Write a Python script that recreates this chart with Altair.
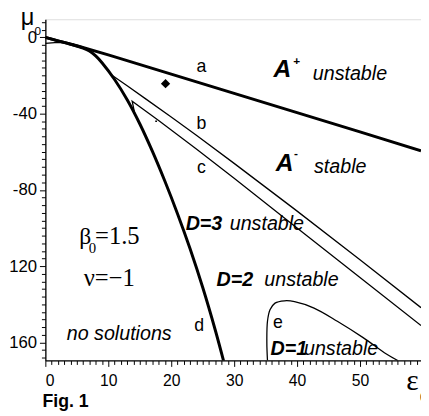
import altair as alt
import pandas as pd

# ---- curve data (epsilon_0, mu_0) ----
a_x = [0, 2, 5, 10, 20, 30, 40, 50, 59.7]
a_y = [0, -1.8, -4.4, -9.2, -19.3, -29.4, -39.5, -49.6, -59.5]

d_x = [0, 2, 4, 6, 7, 8, 9, 11, 13, 15, 17, 19, 21, 23, 25, 27, 28.4]
d_y = [0, -1.8, -3.6, -5.6, -7.1, -9.7, -13.3, -22.1, -32.7, -45.3, -59.7, -75.5, -92.5, -110.9, -131.1, -153.5, -170.7]

b_x = [10.3, 13, 16, 20, 24, 30, 39.6, 50, 59.7]
b_y = [-19.2, -25.4, -32.4, -41.8, -51.4, -66.1, -90.1, -116.6, -141.8]

c_x = [14.2, 13.8, 18, 24, 30, 39.6, 50, 59.7]
c_y = [-40.0, -33.5, -43.6, -58.6, -73.9, -98.9, -126.0, -151.2]

e_x = [35.3, 35.2, 35.3, 35.7, 36.5, 38.0, 39.6, 42.7, 46.4, 50.5, 54.2, 56.0]
e_y = [-169.5, -160, -148.9, -142.9, -139.4, -138.2, -138.6, -142.0, -148.9, -157.5, -166.1, -169.5]

t_x = [0, 1.5, 3, 4.5]
t_y = [-3.2, -2.8, -2.8, -3.6]

diamond_x = [19.1]
diamond_y = [-24.3]
dot_x = [17.6]
dot_y = [-44.0]

x_ticks = list(range(0, 60))
y_ticks = list(range(8, -172, -4))


def curve(name, xs, ys):
    return pd.DataFrame({"curve": name, "i": list(range(len(xs))), "x": xs, "y": ys})


thick_df = curve("a", a_x, a_y)
thick_d = curve("d", d_x, d_y)
thin_df = pd.concat([curve("b", b_x, b_y), curve("c", c_x, c_y), curve("t", t_x, t_y)])
thin_e = curve("e", e_x, e_y)

xscale = alt.Scale(domain=[0, 59.7], nice=False, zero=False)
yscale = alt.Scale(domain=[-169.5, 9.5], nice=False, zero=False)

x_axis = alt.Axis(
    values=x_ticks, tickCount=500,
    labelExpr="datum.value % 10 === 0 ? '' + datum.value : ''",
    tickSize={"condition": {"test": "datum.value % 10 === 0", "value": 6}, "value": 4},
    labelOverlap=False, grid=False, title=None,
    labelFont="Liberation Sans", labelFontSize=16, labelColor="black",
    labelPadding=6, domainColor="black", domainWidth=1.3, tickColor="black",
)
y_axis = alt.Axis(
    values=y_ticks, tickCount=500,
    labelExpr=("datum.value % 40 === 0 && datum.value <= 0 ? (datum.value === 0 ? '0' : "
               "(datum.value >= -80 ? '-' + (-datum.value) : '' + (-datum.value))) : ''"),
    tickSize={"condition": {"test": "datum.value % 40 === 0", "value": 6}, "value": 4},
    labelOverlap=False, grid=False, title=None,
    labelFont="Liberation Sans", labelFontSize=17, labelColor="black",
    labelPadding=3, domainColor="black", domainWidth=1.3, tickColor="black",
)

X = alt.X("x:Q", scale=xscale, axis=x_axis)
Y = alt.Y("y:Q", scale=yscale, axis=y_axis)

base_thick = alt.Chart(thick_df).mark_line(color="black", strokeWidth=3, clip=True).encode(
    x=X, y=Y, order="i:Q")
d_line = alt.Chart(thick_d).mark_line(color="black", strokeWidth=3, clip=True,
                                      interpolate="catmull-rom").encode(
    x=X, y=Y, order="i:Q")
thin_lines = alt.Chart(thin_df).mark_line(color="black", strokeWidth=1.3, clip=True).encode(
    x=X, y=Y, detail="curve:N", order="i:Q")
e_line = alt.Chart(thin_e).mark_line(color="black", strokeWidth=1.3, clip=True,
                                     interpolate="catmull-rom").encode(
    x=X, y=Y, order="i:Q")

diamond = alt.Chart(pd.DataFrame({"x": diamond_x, "y": diamond_y})).mark_point(
    shape="diamond", filled=True, size=90, color="black", opacity=1).encode(x=X, y=Y)
dot = alt.Chart(pd.DataFrame({"x": dot_x, "y": dot_y})).mark_point(
    shape="square", filled=True, size=3, color="black", opacity=1).encode(x=X, y=Y)

# ---- annotation labels ----
letters = ["a", "b", "c", "d", "e"]
letters_x = [24.8, 24.8, 24.8, 24.45, 36.95]
letters_y = [-18.3, -48.2, -71.4, -153.9, -152.4]

big_A = ["A", "A"]
big_A_x = [36.25, 36.6]
big_A_y = [-20.9, -69.9]

sup = ["+", "-"]
sup_x = [39.4, 39.5]
sup_y = [-14.7, -62.7]

ital = ["unstable", "stable", "unstable", "unstable", "unstable", "no solutions"]
ital_x = [42.5, 42.7, 29.3, 34.8, 41.1, 3.4]
ital_y = [-22.5, -71.4, -100.8, -130.2, -166.8, -159.0]

dlab = ["D=3", "D=2", "D=1"]
dlab_x = [22.3, 27.2, 35.8]
dlab_y = [-100.8, -130.2, -166.8]

serif = ["\u03b2", "=1.5", "\u03bd=\u22121"]
serif_x = [5.4, 7.9, 6.1]
serif_y = [-108.5, -108.5, -130.2]

sub = ["0"]
sub_x = [6.9]
sub_y = [-113.2]


def text_layer(texts, xs, ys, **kw):
    df = pd.DataFrame({"t": texts, "x": xs, "y": ys})
    return alt.Chart(df).mark_text(color="black", baseline="alphabetic", **kw).encode(
        x=X, y=Y, text="t:N")


t_letters = text_layer(letters, letters_x, letters_y, font="Liberation Sans", fontSize=18, align="center")
t_A = text_layer(big_A, big_A_x, big_A_y, font="Liberation Sans", fontSize=25,
                 fontWeight="bold", fontStyle="italic", align="left")
t_sup = text_layer(sup, sup_x, sup_y, font="Liberation Sans", fontSize=12, fontWeight="bold", align="left")
t_ital = text_layer(ital, ital_x, ital_y, font="Liberation Sans", fontSize=20,
                    fontStyle="italic", align="left")
t_d = text_layer(dlab, dlab_x, dlab_y, font="Liberation Sans", fontSize=20,
                 fontStyle="italic", fontWeight="bold", align="left")
t_beta = text_layer(serif[:1], serif_x[:1], serif_y[:1], font="Liberation Serif", fontSize=24, align="left")
t_serif = text_layer(serif[1:], serif_x[1:], serif_y[1:], font="Liberation Serif", fontSize=25, align="left")
t_sub = text_layer(sub, sub_x, sub_y, font="Liberation Serif", fontSize=15, align="left")

# ---- axis titles & caption (outside the plot area) ----
mu_t = alt.Chart(pd.DataFrame({"t": ["\u03bc"]})).mark_text(
    font="Liberation Sans", fontSize=24, align="left", baseline="alphabetic", color="black").encode(
    x=alt.value(-25), y=alt.value(6), text="t:N")
mu_s = alt.Chart(pd.DataFrame({"t": ["0"]})).mark_text(
    font="Liberation Sans", fontSize=12, align="left", baseline="alphabetic", color="black").encode(
    x=alt.value(-11), y=alt.value(16), text="t:N")
eps_t = alt.Chart(pd.DataFrame({"t": ["\u03b5"]})).mark_text(
    font="Liberation Serif", fontSize=30, align="left", baseline="alphabetic", color="black").encode(
    x=alt.value(367), y=alt.value(377), text="t:N")
eps_s = alt.Chart(pd.DataFrame({"t": ["0"]})).mark_text(
    font="Liberation Sans", fontSize=14, align="left", baseline="alphabetic", color="black").encode(
    x=alt.value(381), y=alt.value(389), text="t:N")
fig_t = alt.Chart(pd.DataFrame({"t": ["Fig. 1"]})).mark_text(
    font="Liberation Sans", fontSize=18, fontWeight="bold", align="left", baseline="alphabetic",
    color="black").encode(x=alt.value(-3), y=alt.value(394), text="t:N")

chart = alt.layer(
    base_thick, d_line, thin_lines, e_line, diamond, dot,
    t_letters, t_A, t_sup, t_ital, t_d, t_beta, t_serif, t_sub,
    mu_t, mu_s, eps_t, eps_s, fig_t,
).properties(
    width=382, height=347,
    autosize=alt.AutoSizeParams(type="none"),
    padding={"left": 38, "top": 8, "right": 0, "bottom": 53},
).configure_view(stroke="#666666", strokeWidth=1.2).configure(background="white")

chart.save("out.html", embed_options={"renderer": "svg", "actions": False})
